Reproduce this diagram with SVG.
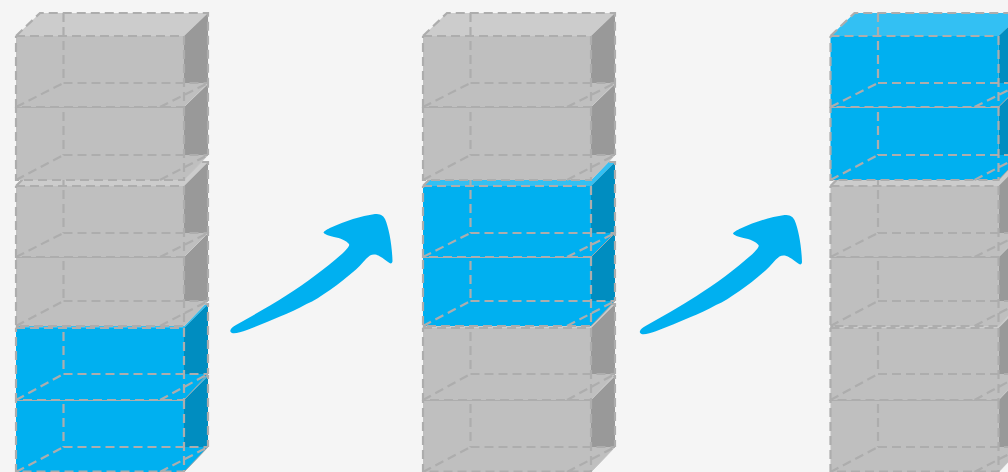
<svg xmlns="http://www.w3.org/2000/svg" xmlns:xlink="http://www.w3.org/1999/xlink" width="1008" height="472" viewBox="0 0 1008 472">
<style>
.grey{--f:#bfbfbf;--t:#cccccc;--s:#999999;--e:#c8c8c8}
.blue{--f:#00b0f0;--t:#33c0f3;--s:#008dc0;--e:#a6a6a6}
.fr{fill:var(--f)}
.tp{fill:var(--t)}
.sd{fill:var(--s)}
.ed{fill:none;stroke:var(--e);stroke-width:1}
.da{fill:none;stroke:#adadad;stroke-width:2.200;stroke-dasharray:9 5}
.ar{fill:#00b0f0}
</style>
<defs>
<g id="r1"><path class="tp" d="M16 36L40 13H208L184 36Z"/><path class="sd" d="M184 36L208 13V83L184 107Z"/><path class="fr" d="M16 36H184V83H208L184 107H16Z"/><path class="ed" d="M184 107L208 83"/><path class="da" d="M16 36L40 13H208V83M16 36H184V107H16V36M63.500 13V83M63.500 83H208M16 107L63.500 83M160 107L208 83"/></g>
<g id="r2"><path class="tp" d="M16 107L40 84H208L184 107Z"/><path class="sd" d="M184 107L208 84V155L184 180Z"/><path class="fr" d="M16 107H184V155H208L184 180H16Z"/><path class="ed" d="M184 180L208 155"/><path class="da" d="M16 107L40 84H208V155M16 107H184V180H16V107M63.500 84V155M63.500 155H208M16 180L63.500 155M160 180L208 155"/></g>
<g id="r3"><path class="tp" d="M16 186L40 162H208L184 186Z"/><path class="sd" d="M184 186L208 162V233L184 257Z"/><path class="fr" d="M16 186H184V233H208L184 257H16Z"/><path class="ed" d="M184 257L208 233"/><path class="da" d="M16 186L40 162H208V233M16 186H184V257H16V186M63.500 162V233M63.500 233H208M16 257L63.500 233M160 257L208 233"/></g>
<g id="r4"><path class="tp" d="M16 257L40 233H208L184 257Z"/><path class="sd" d="M184 257L208 233V301L184 326Z"/><path class="fr" d="M16 257H184V301H208L184 326H16Z"/><path class="ed" d="M184 326L208 301"/><path class="da" d="M16 257L40 233H208V301M16 257H184V326H16V257M63.500 233V301M63.500 301H208M16 326L63.500 301M160 326L208 301"/></g>
<g id="r5"><path class="tp" d="M16 328L40 304H208L184 328Z"/><path class="sd" d="M184 328L208 304V374L184 400Z"/><path class="fr" d="M16 328H184V374H208L184 400H16Z"/><path class="ed" d="M184 400L208 374"/><path class="da" d="M16 328L40 304H208V374M16 328H184V400H16V328M63.500 304V374M63.500 374H208M16 400L63.500 374M160 400L208 374"/></g>
<g id="r6"><path class="tp" d="M16 400L40 376H208L184 400Z"/><path class="sd" d="M184 400L208 376V447L184 472Z"/><path class="fr" d="M16 400H184V447H208L184 472H16Z"/><path class="ed" d="M184 472L208 447"/><path class="da" d="M16 400L40 376H208V447M16 400H184V471.500H16V400M63.500 376V447M63.500 447H208M16 472L63.500 447M160 472L208 447"/></g>
<path id="arrow" class="ar" d="M230.500 330C231 328 233 327 236 325C252 316 270 306 287 295C306 283 326 268 343 253C347 249 350 246 349 244C347 241 340 238 334 237C329 236 324 234 323.500 232.500C324 231 328 229 331 227.500C345 221 361 216 375 214C380 214 383 215 385 219C389 228 392 245 392.500 261C392.500 263 391 264 389.500 263C386 261 383 258 380 256.500C376 254 373 254 370 255.500C365 259 361 265 356 269.500C347 277 339 284 330 290C321 296 314 301 306.500 304C298 309 289 313 280 316.500C269 321 258 326 247 330C241 332 235 334 232 333C230.500 332.500 230 331 230.500 330Z"/>
</defs>
<rect width="1008" height="472" fill="#f5f5f5"/>
<g id="stack-1" transform="translate(0 0)">
<g id="s1-b6" class="blue"><use href="#r6"/></g>
<g id="s1-b5" class="blue"><use href="#r5"/></g>
<g id="s1-b4" class="grey"><use href="#r4"/></g>
<g id="s1-b3" class="grey"><use href="#r3"/></g>
<g id="s1-b2" class="grey"><use href="#r2"/></g>
<g id="s1-b1" class="grey"><use href="#r1"/></g>
</g>
<g id="stack-2" transform="translate(407 0)">
<g id="s2-b6" class="grey"><use href="#r6"/></g>
<g id="s2-b5" class="grey"><use href="#r5"/></g>
<g id="s2-b4" class="blue"><use href="#r4"/></g>
<g id="s2-b3" class="blue"><use href="#r3"/></g>
<g id="s2-b2" class="grey"><use href="#r2"/></g>
<g id="s2-b1" class="grey"><use href="#r1"/></g>
</g>
<g id="stack-3" transform="translate(814.500 0)">
<g id="s3-b6" class="grey"><use href="#r6"/></g>
<g id="s3-b5" class="grey"><use href="#r5"/></g>
<g id="s3-b4" class="grey"><use href="#r4"/></g>
<g id="s3-b3" class="grey"><use href="#r3"/></g>
<g id="s3-b2" class="blue"><use href="#r2"/></g>
<g id="s3-b1" class="blue"><use href="#r1"/></g>
</g>
<g id="connectors">
<use href="#arrow"/>
<use href="#arrow" transform="translate(409.500 1)"/>
</g>
</svg>
